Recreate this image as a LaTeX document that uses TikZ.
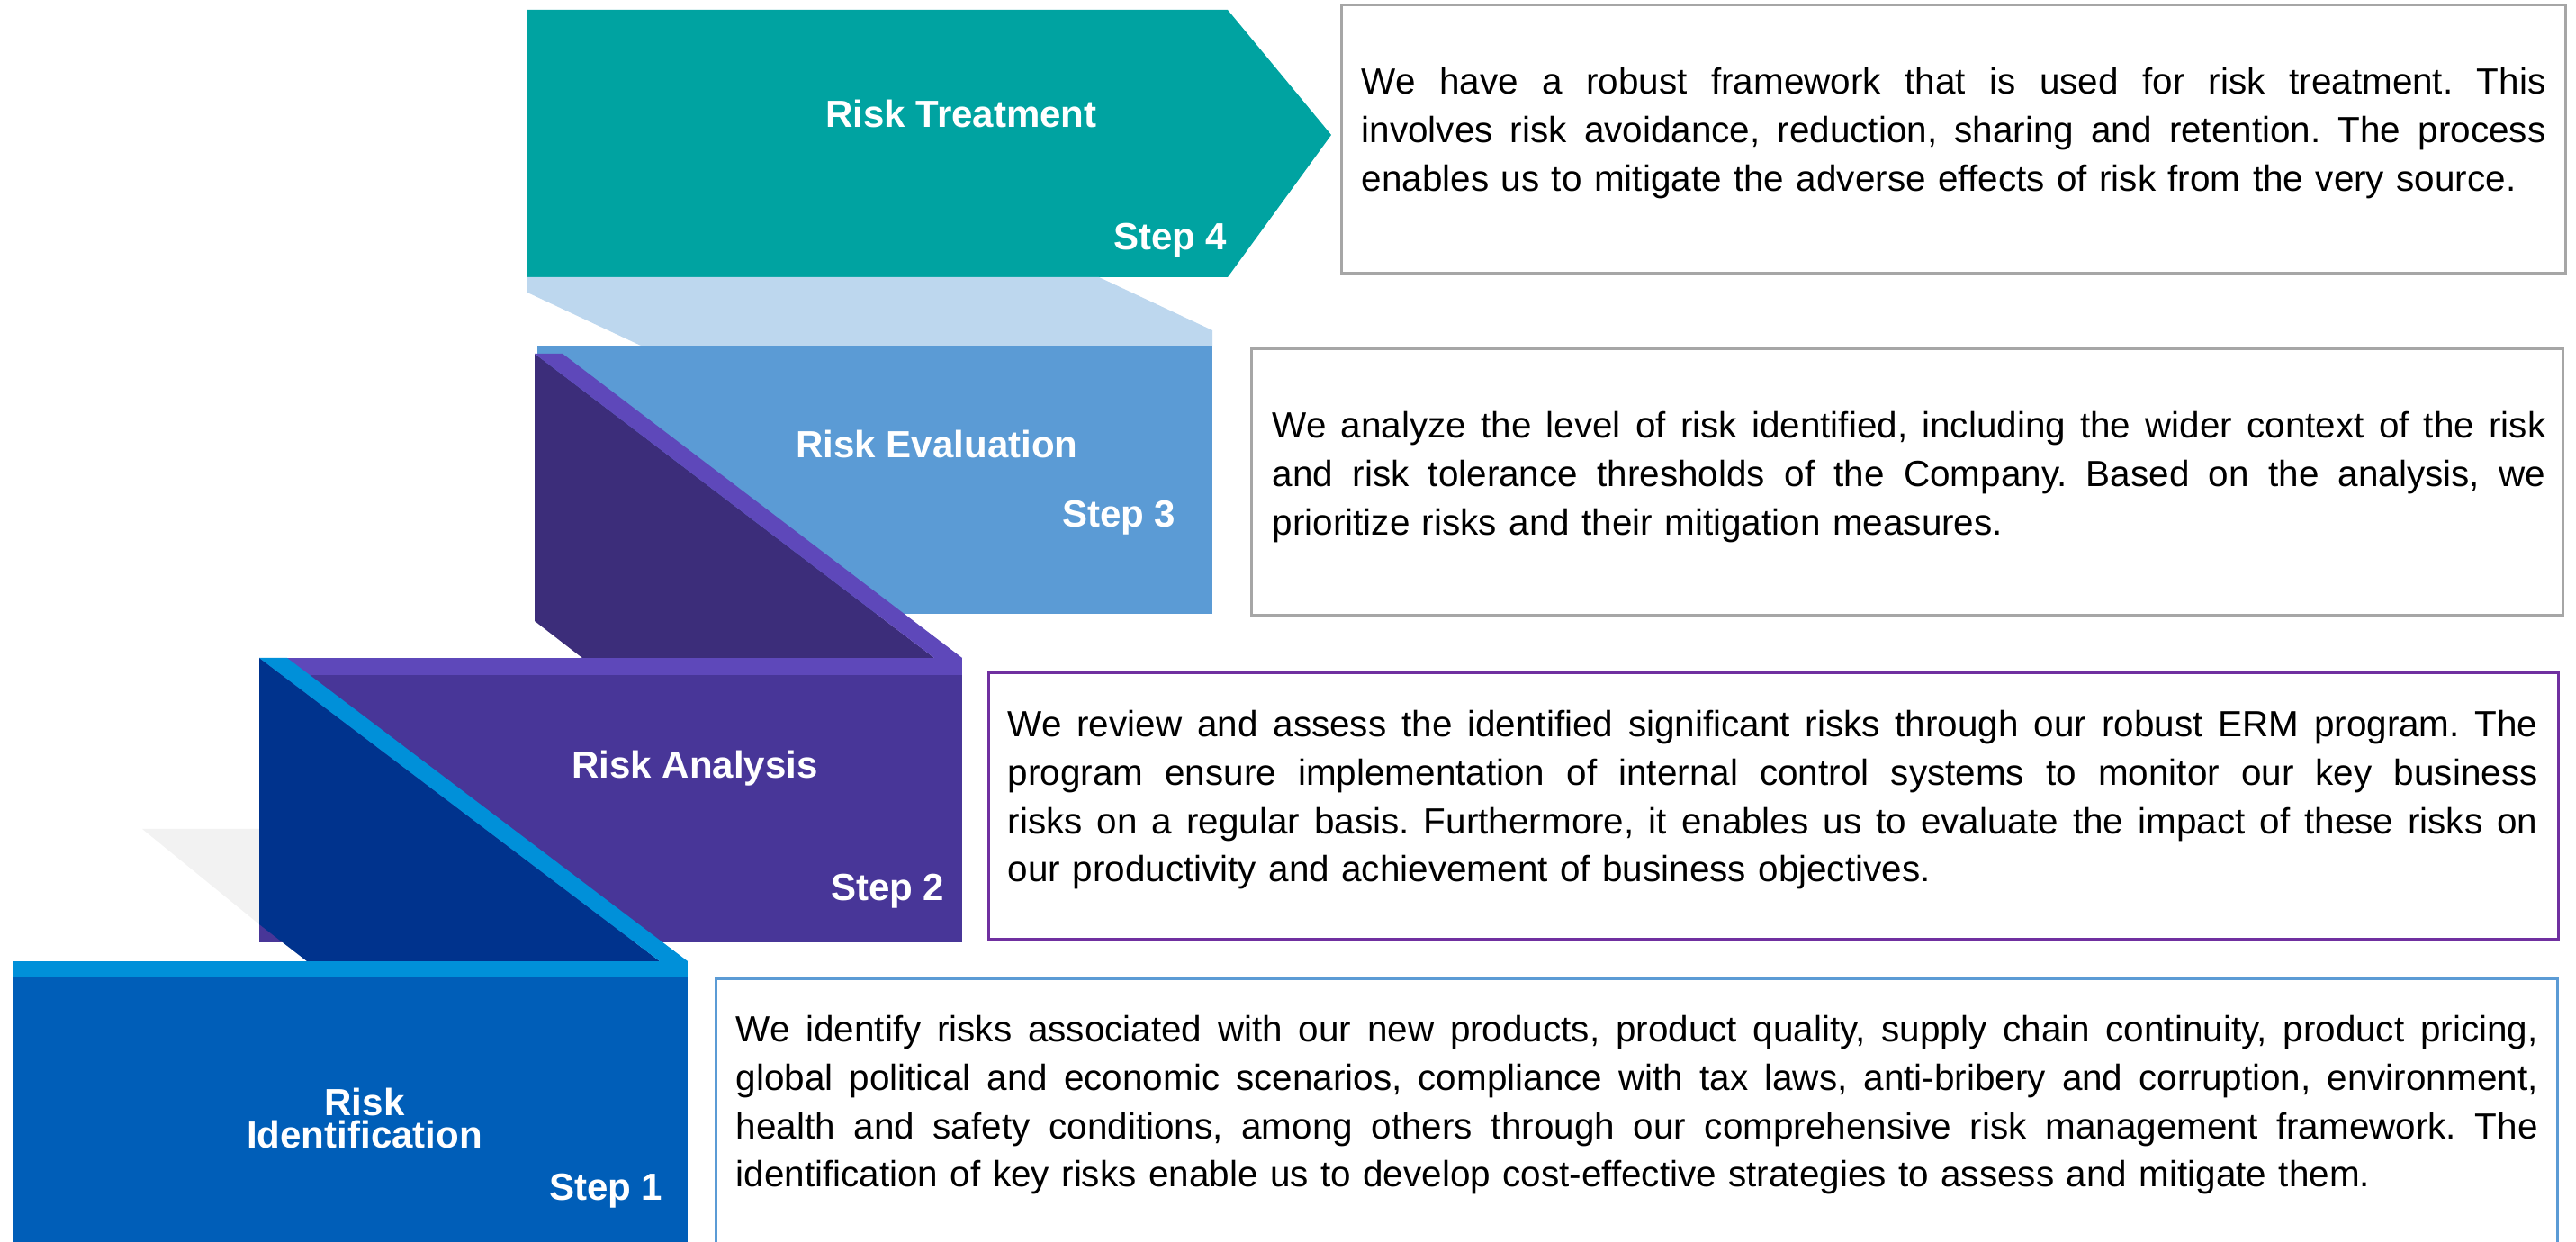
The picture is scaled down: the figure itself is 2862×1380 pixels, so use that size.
\documentclass[tikz,border=0pt]{standalone}
\usepackage{fontspec}
\setmainfont{Liberation Sans}
\definecolor{teal4}{HTML}{00A3A1}
\definecolor{band4}{HTML}{BDD7EE}
\definecolor{blue3}{HTML}{5B9BD5}
\definecolor{side3}{HTML}{3C2D7A}
\definecolor{purple2}{HTML}{483698}
\definecolor{lilac2}{HTML}{5E48BA}
\definecolor{blue1}{HTML}{005EB8}
\definecolor{sky1}{HTML}{0090D9}
\definecolor{navy1}{HTML}{00338D}
\definecolor{ghost}{HTML}{F2F2F2}
\definecolor{frame}{HTML}{A6A6A6}
\definecolor{frame2}{HTML}{7030A0}
\newcommand{\jline}[1]{\noindent\hbox to \linewidth{\frenchspacing\spaceskip=\fontdimen2\font plus 1fil\relax #1}\par}
\newcommand{\eline}[1]{\noindent\hbox{#1}\par}

\begin{document}
\begin{tikzpicture}[x=0.01cm,y=-0.01cm,
    head/.style={text=white,inner sep=0pt,font=\fontsize{11.95}{10.5}\selectfont\bfseries},
    desc/.style={line width=0.85pt},
    body/.style={inner sep=0pt,anchor=base west,text width=#1,font=\fontsize{11.5}{15.22}\selectfont}]
        \useasboundingbox (0,0) rectangle (2862,1380);

        \fill[teal4] (586,11) -- (1364,11) -- (1479,150) -- (1364,308) -- (586,308) -- cycle;
        \fill[band4] (586,308) -- (1221,308) -- (1347,367) -- (1347,384) -- (712,384) -- (586,325) -- cycle;

        \fill[blue3] (597,384) rectangle (1347,682);
        \fill[side3] (594,393) -- (1038,731) -- (647,731) -- (594,690) -- cycle;
        \fill[lilac2] (594,393) -- (625,393) -- (1069,731) -- (1038,731) -- cycle;

        \fill[purple2] (288,731) rectangle (1069,1047);
        \fill[lilac2] (288,731) rectangle (1069,750);
        \fill[ghost] (158,921) -- (288,921) -- (288,1027) -- cycle;
        \fill[navy1] (288,731) -- (733,1068) -- (341,1068) -- (288,1027) -- cycle;
        \fill[sky1] (288,731) -- (319,731) -- (764,1068) -- (733,1068) -- cycle;

        \fill[blue1] (14,1068) rectangle (764,1380);
        \fill[sky1] (14,1068) rectangle (764,1086);

        \node[head,anchor=base] (t4) at (1068,142) {Risk Treatment};
        \node[head,anchor=base east] (s4) at (1364,278) {Step 4};
        \node[head,anchor=base] (t3) at (1041,509) {Risk Evaluation};
        \node[head,anchor=base east] (s3) at (1307,586) {Step 3};
        \node[head,anchor=base] (t2) at (772,865) {Risk Analysis};
        \node[head,anchor=base east] (s2) at (1050,1001) {Step 2};
        \node[head,anchor=base,align=center] (t1) at (405,1276) {Risk\\Identification};
        \node[head,anchor=base east] (s1) at (737,1334) {Step 1};

        \draw[desc,frame] (1490,6) rectangle (2850,304);
        \draw[desc,frame] (1390,388) rectangle (2847,684);
        \draw[desc,frame2] (1098,748) rectangle (2842,1044);
        \draw[desc,blue3] (795,1088) rectangle (2841,1400);

        \node[body=13.15cm] (d4) at (1512,105) {\jline{We have a robust framework that is used for risk treatment. This}\jline{involves risk avoidance, reduction, sharing and retention. The process}\eline{enables us to mitigate the adverse effects of risk from the very source.}};
        \node[body=14.14cm] (d3) at (1413,487) {\jline{We analyze the level of risk identified, including the wider context of the risk}\jline{and risk tolerance thresholds of the Company. Based on the analysis, we}\eline{prioritize risks and their mitigation measures.}};
        \node[body=16.99cm] (d2) at (1119,819) {\jline{We review and assess the identified significant risks through our robust ERM program. The}\jline{program ensure implementation of internal control systems to monitor our key business}\jline{risks on a regular basis. Furthermore, it enables us to evaluate the impact of these risks on}\eline{our productivity and achievement of business objectives.}};
        \node[body=20.01cm] (d1) at (817,1158) {\jline{We identify risks associated with our new products, product quality, supply chain continuity, product pricing,}\jline{global political and economic scenarios, compliance with tax laws, anti-bribery and corruption, environment,}\jline{health and safety conditions, among others through our comprehensive risk management framework. The}\eline{identification of key risks enable us to develop cost-effective strategies to assess and mitigate them.}};
    \end{tikzpicture}
\end{document}
